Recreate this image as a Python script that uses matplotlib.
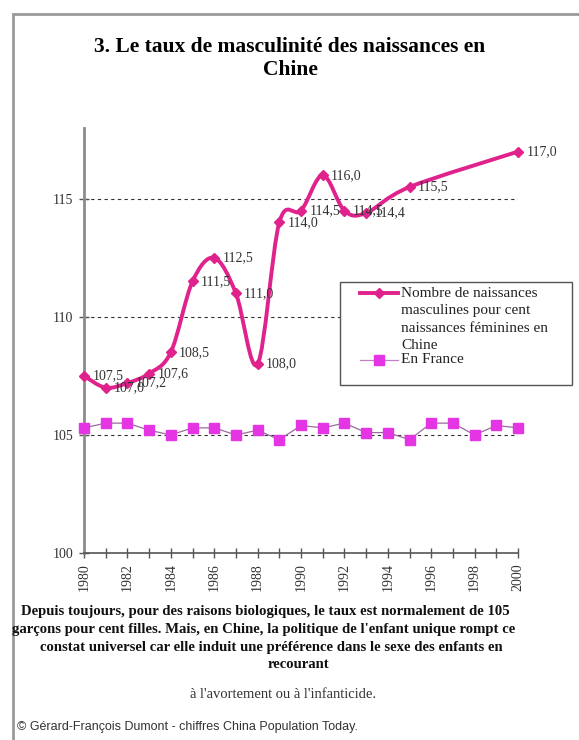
import numpy as np
import matplotlib
matplotlib.use("Agg")
import matplotlib.pyplot as plt
from matplotlib.path import Path
from matplotlib.patches import PathPatch, Rectangle
from matplotlib.lines import Line2D

# sex ratio at birth, China (boys per 100 girls)
years_cn = [1980, 1981, 1982, 1983, 1984, 1985, 1986, 1987, 1988, 1989,
            1990, 1991, 1992, 1993, 1995, 2000]
ratio_cn = [107.5, 107.0, 107.2, 107.6, 108.5, 111.5, 112.5, 111.0, 108.0,
            114.0, 114.5, 116.0, 114.5, 114.4, 115.5, 117.0]

# same ratio, France
years_fr = list(range(1980, 2001))
ratio_fr = [105.3, 105.5, 105.5, 105.2, 105.0, 105.3, 105.3, 105.0, 105.2,
            104.8, 105.4, 105.3, 105.5, 105.1, 105.1, 104.8, 105.5, 105.5,
            105.0, 105.4, 105.3]

year_ticks = list(range(1980, 2001))
year_labels = [str(y) if y % 2 == 0 else "" for y in year_ticks]
ratio_ticks = [100, 105, 110, 115]

title = "3. Le taux de masculinité des naissances en\nChine"
label_cn = ["Nombre de naissances", "masculines pour cent",
            "naissances féminines en", "Chine"]
label_fr = "En France"
note_lines = [
    "Depuis toujours, pour des raisons biologiques, le taux est normalement de 105",
    "garçons pour cent filles. Mais, en Chine, la politique de l'enfant unique rompt ce",
    "constat universel car elle induit une préférence dans le sexe des enfants en",
    "recourant",
]
note_end = "à l'avortement ou à l'infanticide."
credit = "© Gérard-François Dumont - chiffres China Population Today."

PINK = "#e0228c"
MAGENTA = "#e434e4"
SERIF = ["Liberation Serif", "DejaVu Serif"]

W, H = 579, 740
fig = plt.figure(figsize=(W / 100, H / 100), dpi=100)


def fx(px):
    return px / W


def fy(py):
    return 1 - py / H


# outer frame running off the right and bottom edges
fig.add_artist(Rectangle((fx(13), fy(800)), fx(700), fy(14) - fy(800),
                         transform=fig.transFigure, fill=False,
                         edgecolor="#9a9a9a", lw=2))

ax = fig.add_axes([fx(84), fy(553), fx(518) - fx(84), fy(128) - fy(553)])
ax.set_xlim(1980, 2000)
ax.set_ylim(100, 118)
for s in ("top", "right"):
    ax.spines[s].set_visible(False)
ax.spines["left"].set_color("#8c8c8c")
ax.spines["left"].set_linewidth(2)
ax.spines["bottom"].set_color("#555555")
ax.spines["bottom"].set_linewidth(1.2)

ax.set_xticks(year_ticks)
ax.set_xticklabels(year_labels, rotation=90, family=SERIF, fontsize=10,
                   color="#333333")
ax.set_yticks(ratio_ticks)
ax.set_yticklabels([str(t) for t in ratio_ticks], family=SERIF, fontsize=10,
                   color="#333333")
ax.tick_params(axis="both", direction="inout", length=7, width=1,
               color="#555555", pad=4)
for t in ratio_ticks[1:]:
    ax.axhline(t, color="#333333", lw=0.8, ls=(0, (3, 3)), zorder=1)
ax.set_facecolor("none")

# smoothed China curve: Catmull-Rom style Bezier through the points
x = np.array(years_cn, float)
y = np.array(ratio_cn, float)
pts = np.column_stack([x, y])
verts = [pts[0]]
codes = [Path.MOVETO]
n = len(pts)
for i in range(n - 1):
    p0 = pts[i - 1] if i > 0 else pts[i]
    p1 = pts[i]
    p2 = pts[i + 1]
    p3 = pts[i + 2] if i + 2 < n else pts[i + 1]
    c1 = p1 + (p2 - p0) / 6
    c2 = p2 - (p3 - p1) / 6
    verts += [c1, c2, p2]
    codes += [Path.CURVE4] * 3
ax.add_patch(PathPatch(Path(verts, codes), fill=False, edgecolor=PINK,
                       lw=2.8, zorder=3, capstyle="round", joinstyle="round"))
ax.plot(years_cn, ratio_cn, ls="none", marker="D", ms=5, color=PINK,
        zorder=4, clip_on=False)

for xv, yv in zip(years_cn, ratio_cn):
    ax.annotate(f"{yv:.1f}".replace(".", ","), (xv, yv), xytext=(6, 0),
                textcoords="offset points", va="center", ha="left",
                family=SERIF, fontsize=10, color="#333333", zorder=5)

ax.plot(years_fr, ratio_fr, color="#9b6b9b", lw=0.9, marker="s", ms=6.5,
        mfc=MAGENTA, mec=MAGENTA, zorder=3, clip_on=False)

# legend box
fig.add_artist(Rectangle((fx(340), fy(385)), fx(232), fy(282) - fy(385),
                         transform=fig.transFigure, facecolor="white",
                         edgecolor="#555555", lw=1, zorder=6))
fig.add_artist(Line2D([fx(360), fx(398)], [fy(293), fy(293)],
                      transform=fig.transFigure, color=PINK, lw=2.8,
                      zorder=7))
fig.add_artist(Line2D([fx(379)], [fy(293)], transform=fig.transFigure,
                      color=PINK, marker="D", ms=5, ls="none", zorder=7))
fig.add_artist(Line2D([fx(360), fx(398)], [fy(360), fy(360)],
                      transform=fig.transFigure, color="#c080c0", lw=0.9,
                      zorder=7))
fig.add_artist(Line2D([fx(379)], [fy(360)], transform=fig.transFigure,
                      color=MAGENTA, marker="s", ms=6.5, ls="none", zorder=7))
for i, line in enumerate(label_cn):
    fig.text(fx(401), fy(293 + 17.5 * i), line, family=SERIF, fontsize=11,
             va="center", ha="left", color="#222222", zorder=8)
fig.text(fx(401), fy(359), label_fr, family=SERIF, fontsize=11,
         va="center", ha="left", color="#222222", zorder=8)

fig.text(fx(290), fy(47), title.split("\n")[0], family=SERIF, fontsize=15.5,
         fontweight="bold", ha="center", va="center")
fig.text(fx(290), fy(70), title.split("\n")[1], family=SERIF, fontsize=15.5,
         fontweight="bold", ha="center", va="center")

note_x = [265, 264, 271, 299]
for i, line in enumerate(note_lines):
    fig.text(fx(note_x[i]), fy(612 + 17.5 * i), line, family=SERIF,
             fontsize=10.6, fontweight="bold", ha="center", va="center",
             color="#111111")
fig.text(fx(283), fy(695), note_end, family=SERIF, fontsize=10.5,
         ha="center", va="center", color="#333333")
fig.text(fx(17), fy(727), credit, family=["Liberation Sans", "DejaVu Sans"],
         fontsize=9, ha="left", va="center", color="#333333")

fig.savefig("out.png", dpi=100)
